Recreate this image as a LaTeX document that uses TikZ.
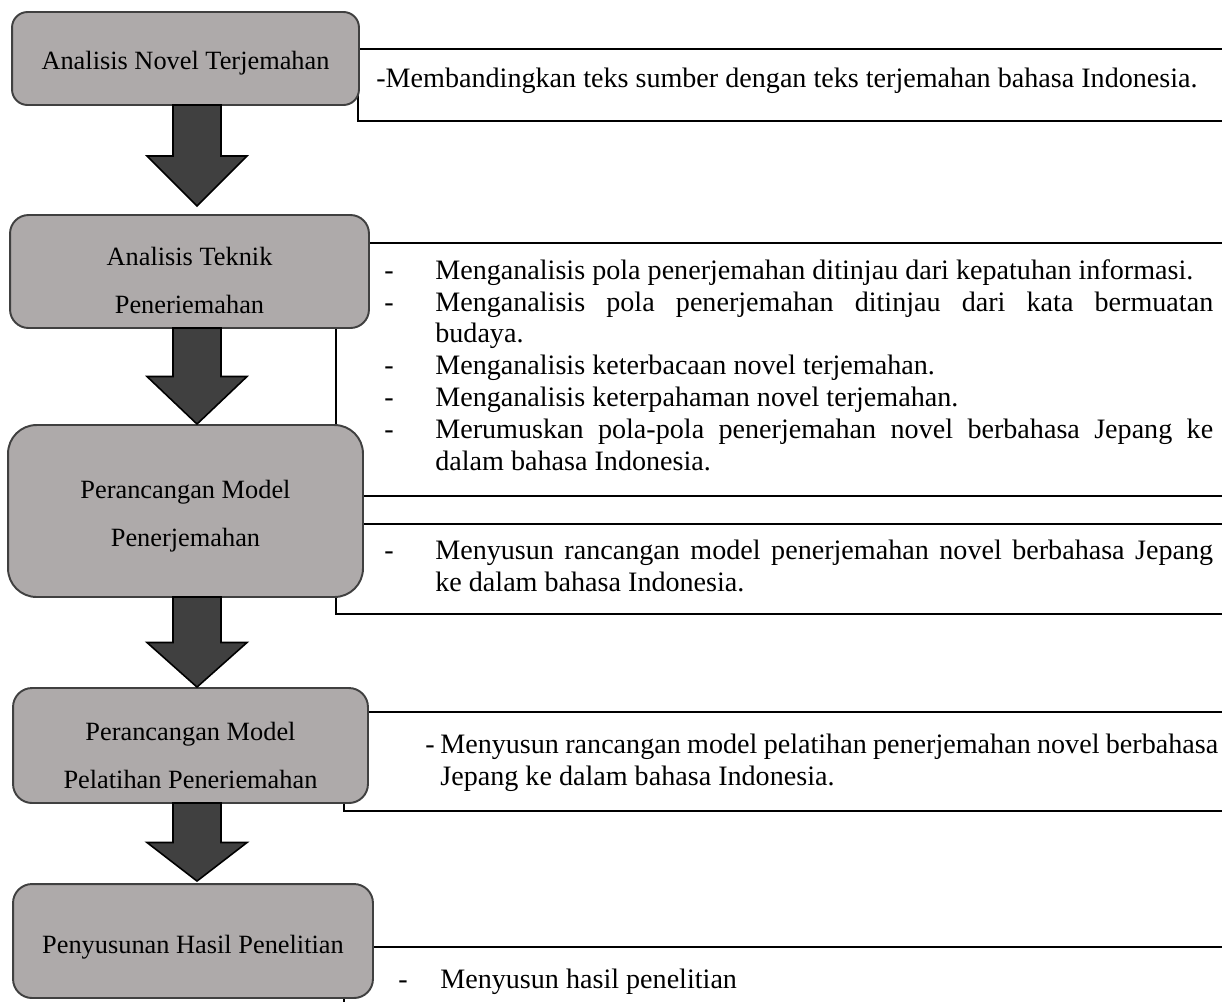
\documentclass[tikz,border=0pt]{standalone}
\usepackage{fontspec}
\setmainfont{Liberation Serif}
\usetikzlibrary{calc}
\definecolor{boxgray}{HTML}{AEAAAA}
\definecolor{boxline}{HTML}{404040}
\definecolor{arrowfill}{HTML}{404040}
\hyphenpenalty=10000
\exhyphenpenalty=10000
\tolerance=10000
\hbadness=10000
\newcommand{\dashitem}[3]{\noindent\strut\hangindent=#1\hangafter=1\makebox[#1][l]{\hspace{#2}-}#3\par}
\newcommand{\padtop}[1]{\rule{0pt}{#1}}
\tikzset{
  stage/.style={draw=boxline, line width=1.1pt, fill=boxgray, align=center, inner sep=0pt, font=\fontsize{15}{27.5}\selectfont},
  bigarrow/.style={fill=arrowfill, draw=black, line width=0.9pt},
  notebox/.style={draw=black, line width=0.7pt},
  notetext/.style={anchor=north west, inner sep=0pt, font=\fontsize{16}{18.1}\selectfont},
}

\begin{document}
\begin{tikzpicture}[x=0.02cm, y=-0.02cm]
\useasboundingbox (0,0) rectangle (1222,1002);
\coordinate (axis) at (197,0);

\draw[notebox] (1222,49) -| (358,121) -- (1222,121);
\draw[notebox] (1222,243) -| (336,496) -- (1222,496);
\draw[notebox] (1222,524) -| (336,614) -- (1222,614);
\draw[notebox] (1222,712) -| (344,811) -- (1222,811);
\draw[notebox] (1222,947) -| (344,1002);

\node[stage, minimum width=6.94cm, minimum height=1.86cm, rounded corners=0.31cm] (s1) at (185.5,58.5) {\padtop{15.5pt}Analisis Novel Terjemahan};
\node[stage, minimum width=7.18cm, minimum height=2.26cm, rounded corners=0.37cm] (s2) at (189.5,271.5) {\padtop{20.5pt}Analisis Teknik\\Peneriemahan};
\node[stage, minimum width=7.10cm, minimum height=3.44cm, rounded corners=0.57cm] (s3) at (185.5,511) {\padtop{16pt}Perancangan Model\\Penerjemahan};
\node[stage, minimum width=7.10cm, minimum height=2.30cm, rounded corners=0.38cm] (s4) at (190.5,745.5) {\padtop{22pt}Perancangan Model\\Pelatihan Peneriemahan};
\node[stage, minimum width=7.20cm, minimum height=2.28cm, rounded corners=0.38cm] (s5) at (193,941) {\padtop{17pt}Penyusunan Hasil Penelitian};

\foreach \a/\b/\g in {s1/s2/8, s2/s3/0, s3/s4/0, s4/s5/2}{
  \coordinate (top) at (\a.south -| axis);
  \coordinate (tip) at ($(\b.north -| axis)+(0,-\g)$);
  \coordinate (mid) at ($(top)!0.5!(tip)$);
  \draw[bigarrow] ($(top)+(-24,-1)$) -- ($(mid)+(-24,0)$) -- ($(mid)+(-50,0)$) -- (tip)
    -- ($(mid)+(50,0)$) -- ($(mid)+(24,0)$) -- ($(top)+(24,-1)$) -- cycle;
}

\node[notetext, anchor=base west] (t1) at (376,87) {-Membandingkan teks sumber dengan teks terjemahan bahasa Indonesia.};
\node[notetext, text width=16.66cm, align=justify] (t2) at (380,256.6) {%
\dashitem{1.1cm}{0.08cm}{Menganalisis pola penerjemahan ditinjau dari kepatuhan informasi.}
\dashitem{1.1cm}{0.08cm}{Menganalisis pola penerjemahan ditinjau dari kata bermuatan\linebreak budaya.}
\dashitem{1.1cm}{0.08cm}{Menganalisis keterbacaan novel terjemahan.}
\dashitem{1.1cm}{0.08cm}{Menganalisis keterpahaman novel terjemahan.}
\dashitem{1.1cm}{0.08cm}{Merumuskan pola-pola penerjemahan novel berbahasa Jepang ke\linebreak dalam bahasa Indonesia.}};
\node[notetext, text width=16.66cm, align=justify] (t3) at (380,536.6) {%
\dashitem{1.1cm}{0.08cm}{Menyusun rancangan model penerjemahan novel berbahasa Jepang\linebreak ke dalam bahasa Indonesia.}};
\node[notetext, text width=15.96cm, align=justify] (t4) at (420,730.6) {%
\dashitem{0.4cm}{0.1cm}{Menyusun rancangan model pelatihan penerjemahan novel berbahasa\linebreak Jepang ke dalam bahasa Indonesia.}};
\node[notetext, text width=16cm, align=justify] (t5) at (394,965.6) {%
\dashitem{0.92cm}{0.08cm}{Menyusun hasil penelitian}};
\end{tikzpicture}
\end{document}
